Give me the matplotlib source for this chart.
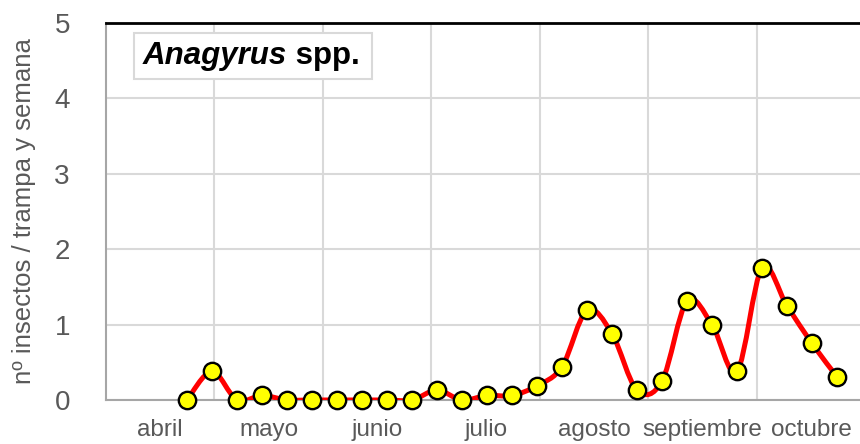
import matplotlib
matplotlib.use("Agg")
import matplotlib.pyplot as plt
from matplotlib.path import Path
from matplotlib.patches import PathPatch, Rectangle
import numpy as np

# Weekly catches (insects / trap / week), April to October
week_pos = [0.747 + 0.2304 * i for i in range(27)]
catches = [0, 0.38, 0, 0.06, 0, 0, 0, 0, 0, 0, 0.13, 0, 0.06, 0.06, 0.19,
           0.44, 1.19, 0.88, 0.13, 0.25, 1.31, 1.0, 0.38, 1.75, 1.25, 0.75, 0.31]
months = ["abril", "mayo", "junio", "julio", "agosto", "septiembre", "octubre"]
y_ticks = [0, 1, 2, 3, 4, 5]

plt.rcParams["font.family"] = ["Liberation Sans", "DejaVu Sans"]
grey_text = "#595959"


def smooth_path(xs, ys):
    """Build a Catmull-Rom style bezier path through the points (like Excel smoothing)"""
    pts = np.column_stack([xs, ys])
    n = len(pts)
    verts = [pts[0]]
    codes = [Path.MOVETO]
    for i in range(n - 1):
        p0 = pts[i - 1] if i > 0 else pts[i]
        p1 = pts[i]
        p2 = pts[i + 1]
        p3 = pts[i + 2] if i + 2 < n else pts[i + 1]
        c1 = p1 + (p2 - p0) / 6
        c2 = p2 - (p3 - p1) / 6
        verts += [c1, c2, p2]
        codes += [Path.CURVE4] * 3
    return Path(verts, codes)


fig = plt.figure(figsize=(8.6, 4.44), dpi=100)
ax = fig.add_axes([106 / 860, 44 / 444, 1 - 106 / 860, (400 - 23) / 444])

ax.set_xlim(0, 6.95)
ax.set_ylim(0, 5)

# grid
ax.set_yticks(y_ticks)
ax.set_xticks(range(1, 7))
ax.set_xticklabels([])
ax.set_xticks([i + 0.5 for i in range(7)], minor=True)
ax.set_xticklabels(months, minor=True, fontsize=17.5, color=grey_text)
ax.tick_params(axis="x", which="both", length=0, pad=14)
ax.tick_params(axis="y", length=0, pad=26, labelsize=20, labelcolor=grey_text)
ax.grid(True, color="#d9d9d9", lw=1.5)
ax.set_axisbelow(True)

for s in ["left", "bottom"]:
    ax.spines[s].set_color("#a6a6a6")
    ax.spines[s].set_linewidth(1.5)
ax.spines["right"].set_visible(False)
ax.spines["top"].set_color("black")
ax.spines["top"].set_linewidth(2)

ax.set_ylabel("nº insectos / trampa y semana", fontsize=18.5, color=grey_text, labelpad=13)

# smoothed red line + yellow markers
ax.add_patch(PathPatch(smooth_path(week_pos, catches), fill=False,
                       edgecolor="red", lw=3.6, capstyle="round", zorder=3))
ax.plot(week_pos, catches, linestyle="none", marker="o", markersize=12.5,
        markerfacecolor="yellow", markeredgecolor="black", markeredgewidth=1.7,
        zorder=4, clip_on=False)

# title box
box = Rectangle(((134 - 106) / 754, (400 - 79) / 377), (372 - 134) / 754, 46 / 377,
                transform=ax.transAxes, facecolor="white", edgecolor="#d9d9d9",
                lw=1.5, zorder=5)
ax.add_patch(box)
t1 = ax.text((143 - 106) / 754, (400 - 56) / 377, "Anagyrus", transform=ax.transAxes,
             fontsize=22.5, fontweight="bold", fontstyle="italic", va="center",
             ha="left", zorder=6)
ax.annotate(" spp.", xy=(1, 0), xycoords=t1, va="bottom", ha="left",
            fontsize=22.5, fontweight="bold", zorder=6)

fig.savefig("out.png", dpi=100)
